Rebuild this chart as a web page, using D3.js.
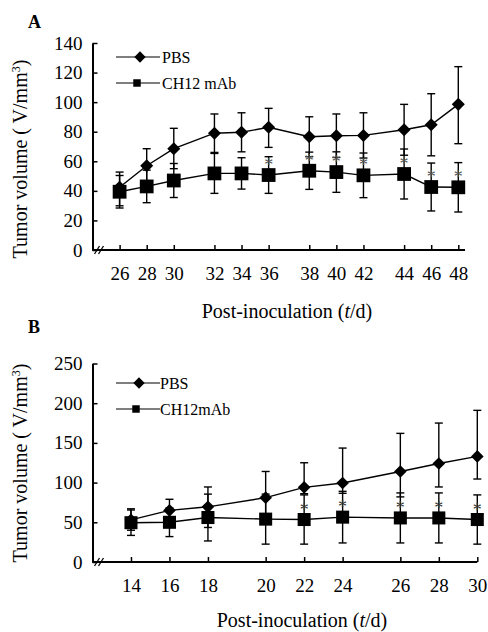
<!DOCTYPE html>
<html>
<head>
<meta charset="utf-8">
<script src="https://cdn.jsdelivr.net/npm/d3@7"></script>
<style>
  body { margin: 0; background: #fff; }
  svg { display: block; }
  text { font-family: "Liberation Serif", "Times New Roman", serif; fill: #000; }
</style>
</head>
<body>
<div id="viz"></div>
<script>
// Panel A  (days are spaced unevenly in the original figure: slots keep that spacing)
var slotsA   = [26, 28, 30, 33, 35, 37, 40, 42, 44, 47, 49, 51];
var labelsA  = ["26", "28", "30", "32", "34", "36", "38", "40", "42", "44", "46", "48"];
var yTicksA  = [0, 20, 40, 60, 80, 100, 120, 140];
var pbsA     = [42.4, 57, 68.5, 79, 79.6, 83, 76.6, 77.3, 77.5, 81.3, 84.7, 98.5];
var pbsUpA   = [10.3, 11.5, 13.8, 13, 13.2, 12.8, 13.5, 14.7, 15.3, 17.2, 21, 25.5];
var pbsDnA   = [12.5, 11.5, 13.5, 13, 13.2, 13.6, 13.5, 14.7, 15.3, 17.2, 21, 26.6];
var ch12A    = [39.4, 43, 47, 51.8, 51.8, 50.7, 53.6, 52.7, 50.5, 51.4, 42.6, 42.4];
var ch12SdA  = [11, 11, 11.5, 13.5, 10.6, 12.4, 12.6, 13.7, 15.1, 16.9, 16.2, 16.7];
var starsA   = [5, 6, 7, 8, 9, 10, 11];

// Panel B
var slotsB   = [14, 16, 18, 21, 23, 25, 28, 30, 32];
var labelsB  = ["14", "16", "18", "20", "22", "24", "26", "28", "30"];
var yTicksB  = [0, 50, 100, 150, 200, 250];
var pbsB     = [53, 65, 69.5, 81, 94, 99.5, 114, 124, 133];
var pbsUpB   = [14, 14, 25, 33, 31, 44, 48, 51, 58];
var pbsDnB   = [13, 14, 26, 25, 8, 13, 32, 29.5, 28.5];
var ch12B    = [49.5, 50, 56, 54, 53.5, 56.5, 55.5, 55.5, 53.5];
var ch12SdB  = [16, 18, 29.5, 31.5, 31, 32.5, 31.5, 31.5, 31];
var starsB   = [4, 5, 6, 7, 8];

var width = 488, height = 632;

var svg = d3.select("#viz").append("svg")
    .attr("width", width)
    .attr("height", height);

function drawPanel(p) {
  var g = svg.append("g");

  var x = d3.scaleLinear().domain(p.xDomain).range([92.5, p.xEnd]);
  var y = d3.scaleLinear().domain([0, p.yTicks[p.yTicks.length - 1]]).range(p.yRange);

  // y axis
  var ya = g.append("g")
      .attr("transform", "translate(92.5,0)")
      .call(d3.axisLeft(y).tickValues(p.yTicks).tickSizeInner(-5).tickSizeOuter(0).tickPadding(10));
  ya.select(".domain").attr("stroke-width", 2);
  ya.selectAll(".tick line").attr("stroke-width", 1.5);
  ya.selectAll("text").style("font-size", "19px").style("font-family", "Liberation Serif, serif");

  // x axis
  var xa = g.append("g")
      .attr("transform", "translate(0," + y(0) + ")")
      .call(d3.axisBottom(x).tickValues(p.slots)
        .tickFormat(function(d, i) { return p.labels[i]; })
        .tickSizeInner(-5).tickSizeOuter(0).tickPadding(17));
  xa.select(".domain").remove();
  xa.selectAll(".tick line").attr("stroke-width", 1.5);
  xa.selectAll("text").style("font-size", "19px").style("font-family", "Liberation Serif, serif");
  g.append("line")
      .attr("x1", 92.5).attr("x2", p.axisEnd)
      .attr("y1", y(0)).attr("y2", y(0))
      .attr("stroke", "#000").attr("stroke-width", 2);

  // axis break
  [97, 101].forEach(function(bx) {
    g.append("line")
      .attr("x1", bx - 2.5).attr("y1", y(0) + 4)
      .attr("x2", bx + 2.5).attr("y2", y(0) - 4)
      .attr("stroke", "#000").attr("stroke-width", 1.3);
  });

  // error bars
  p.series.forEach(function(s) {
    var eb = g.append("g").selectAll("g")
      .data(s.mean.map(function(m, i) { return { i: i, m: m, hi: m + s.up[i], lo: m - s.dn[i] }; }))
      .enter().append("g")
      .attr("stroke", "#000").attr("stroke-width", 1.4);
    eb.append("line")
      .attr("x1", function(d) { return x(p.slots[d.i]); })
      .attr("x2", function(d) { return x(p.slots[d.i]); })
      .attr("y1", function(d) { return y(d.hi); })
      .attr("y2", function(d) { return y(d.lo); });
    eb.append("line")
      .attr("x1", function(d) { return x(p.slots[d.i]) - 4; })
      .attr("x2", function(d) { return x(p.slots[d.i]) + 4; })
      .attr("y1", function(d) { return y(d.hi); })
      .attr("y2", function(d) { return y(d.hi); });
    eb.append("line")
      .attr("x1", function(d) { return x(p.slots[d.i]) - 4; })
      .attr("x2", function(d) { return x(p.slots[d.i]) + 4; })
      .attr("y1", function(d) { return y(d.lo); })
      .attr("y2", function(d) { return y(d.lo); });
  });

  // lines + markers
  p.series.forEach(function(s) {
    var line = d3.line()
      .x(function(d, i) { return x(p.slots[i]); })
      .y(function(d) { return y(d); });
    g.append("path")
      .datum(s.mean)
      .attr("d", line)
      .attr("fill", "none")
      .attr("stroke", "#000")
      .attr("stroke-width", 1.4);
    g.append("g").selectAll("path")
      .data(s.mean)
      .enter().append("path")
      .attr("d", d3.symbol(d3.symbolSquare, s.size))
      .attr("transform", function(d, i) {
        return "translate(" + x(p.slots[i]) + "," + y(d) + ")" + (s.diamond ? " rotate(45)" : "");
      })
      .attr("fill", "#000");
  });

  // significance stars
  var ch = p.series[1];
  g.append("g").selectAll("text")
    .data(p.stars)
    .enter().append("text")
    .attr("x", function(i) { return x(p.slots[i]); })
    .attr("y", function(i) { return y(ch.mean[i]) - 4; })
    .attr("text-anchor", "middle")
    .style("font-size", "18px")
    .style("fill", p.starColor)
    .text("*");

  // legend
  p.series.forEach(function(s, k) {
    var ly = p.legendY[k];
    g.append("line")
      .attr("x1", 116).attr("x2", 160)
      .attr("y1", ly).attr("y2", ly)
      .attr("stroke", "#000").attr("stroke-width", 1.2);
    g.append("path")
      .attr("d", d3.symbol(d3.symbolSquare, s.legendSize))
      .attr("transform", "translate(" + s.legendX + "," + ly + ")" + (s.diamond ? " rotate(45)" : ""))
      .attr("fill", "#000");
    g.append("text")
      .attr("x", p.legendTextX).attr("y", ly + 5.5)
      .style("font-size", "16px")
      .text(p.legendText[k]);
  });

  // titles
  g.append("text")
    .attr("x", 28).attr("y", p.letterY)
    .style("font-size", "18px").style("font-weight", "bold")
    .text(p.letter);

  var xt = g.append("text")
    .attr("x", p.xTitleX).attr("y", p.xTitleY)
    .attr("text-anchor", "middle")
    .style("font-size", "20px");
  xt.append("tspan").text("Post-inoculation (");
  xt.append("tspan").style("font-style", "italic").text("t");
  xt.append("tspan").text("/d)");

  var yt = g.append("text")
    .attr("transform", "translate(27," + p.yTitleY + ") rotate(-90)")
    .attr("text-anchor", "middle")
    .style("font-size", "20px");
  yt.append("tspan").text("Tumor volume ( V/mm");
  yt.append("tspan").attr("dy", -7).style("font-size", "12px").text("3");
  yt.append("tspan").attr("dy", 7).text(")");
}

drawPanel({
  xDomain: [24, 51], xEnd: 458.3, axisEnd: 465,
  slots: slotsA, labels: labelsA,
  yTicks: yTicksA, yRange: [250, 43],
  series: [
    { mean: pbsA, up: pbsUpA, dn: pbsDnA, diamond: true, size: 85, legendSize: 64, legendX: 140 },
    { mean: ch12A, up: ch12SdA, dn: ch12SdA, diamond: false, size: 190, legendSize: 56, legendX: 137 }
  ],
  stars: starsA, starColor: "#555",
  legendY: [57, 83], legendText: ["PBS", "CH12 mAb"], legendTextX: 162,
  letter: "A", letterY: 28,
  xTitleX: 287, xTitleY: 318, yTitleY: 159
});

drawPanel({
  xDomain: [12, 32], xEnd: 477.3, axisEnd: 477.3,
  slots: slotsB, labels: labelsB,
  yTicks: yTicksB, yRange: [562, 363.5],
  series: [
    { mean: pbsB, up: pbsUpB, dn: pbsDnB, diamond: true, size: 80, legendSize: 64, legendX: 139 },
    { mean: ch12B, up: ch12SdB, dn: ch12SdB, diamond: false, size: 170, legendSize: 56, legendX: 136 }
  ],
  stars: starsB, starColor: "#333",
  legendY: [383, 409], legendText: ["PBS", "CH12mAb"], legendTextX: 160,
  letter: "B", letterY: 333,
  xTitleX: 302, xTitleY: 627, yTitleY: 463
});
</script>
</body>
</html>
